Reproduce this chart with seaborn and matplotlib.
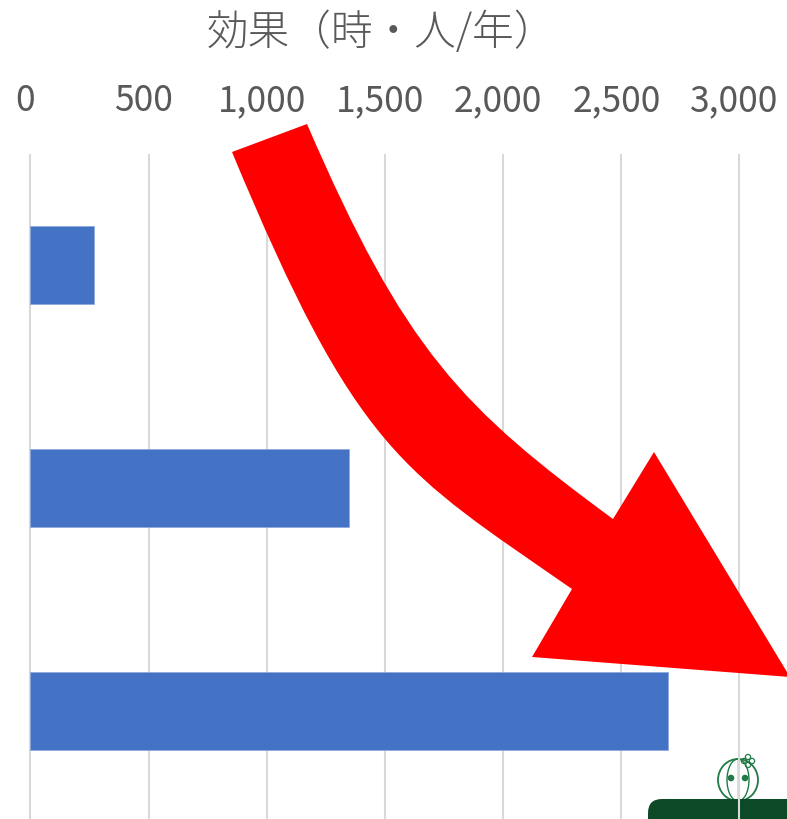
import numpy as np
import pandas as pd
import matplotlib
matplotlib.use("Agg")
import matplotlib.pyplot as plt
import seaborn as sns
from matplotlib.path import Path
from matplotlib.patches import PathPatch, FancyBboxPatch, Ellipse, Circle
from matplotlib.ticker import FuncFormatter
from matplotlib.transforms import ScaledTranslation

# ---- data ----
categories = ["項目1", "項目2", "項目3"]
values = [267, 1347, 2699]
tick_values = [0, 500, 1000, 1500, 2000, 2500, 3000]
title_text = "効果（時・人/年）"

sns.set_theme(style="white")
plt.rcParams['font.family'] = ['Noto Sans CJK JP', 'DejaVu Sans']

W, H = 787, 820
fig = plt.figure(figsize=(W / 100, H / 100), dpi=100)
fig.patch.set_facecolor("white")

# ---- background layer (logo) in pixel coordinates ----
bg = fig.add_axes([0, 0, 1, 1])
bg.set_xlim(0, W)
bg.set_ylim(H, 0)
bg.axis('off')
cg = '#1f7a45'
bg.add_patch(Ellipse((738, 781), 40, 42, fill=False, ec=cg, lw=1.3))
bg.add_patch(Ellipse((738, 781), 22, 42, fill=False, ec=cg, lw=1.0))
bg.plot([738, 738], [760, 802], color=cg, lw=1.0)
bg.add_patch(Circle((731, 779), 2.6, color=cg))
bg.add_patch(Circle((745, 779), 2.6, color=cg))
for dx, dy in [(0, -4), (4, 0), (0, 4), (-4, 0)]:
    bg.add_patch(Circle((748 + dx, 762 + dy), 2.6, fill=False, ec=cg, lw=0.9))
bg.add_patch(FancyBboxPatch((648, 800), 200, 100,
                            boxstyle="round,pad=0,rounding_size=14",
                            fc='#0c4a27', ec='none'))

# ---- main chart ----
ax = fig.add_axes([0, 0, 1, 1 - 155 / H])
ax.patch.set_alpha(0)
df = pd.DataFrame({"cat": categories, "val": values})
sns.barplot(data=df, x="val", y="cat", orient="h", color="#4472C4",
            width=0.35, saturation=1, ax=ax, edgecolor="#8fa9dc", linewidth=0.6)
ax.set_xlim(-129, 3201)
ax.set_ylim(2.485, -0.5)
ax.set_xticks(tick_values)
ax.xaxis.set_major_formatter(FuncFormatter(lambda v, p: f"{int(v):,}"))
ax.xaxis.tick_top()
ax.tick_params(axis='x', length=0, pad=26, labelsize=25.5, labelcolor="#595959")
ax.tick_params(axis='y', left=False, labelleft=False)
shift = ScaledTranslation(-5 / 100, 0, fig.dpi_scale_trans)
for lab in ax.get_xticklabels():
    lab.set_transform(lab.get_transform() + shift)
ax.set_xlabel("")
ax.set_ylabel("")
ax.grid(axis='x', color='#d9d9d9', lw=1.5)
ax.grid(axis='y', visible=False)
ax.set_axisbelow(True)
for s in ax.spines.values():
    s.set_visible(False)

fig.text(381 / W, 1 - 33 / H, title_text, ha='center', va='center',
         fontsize=30, color='#595959', fontweight='light')

# ---- foreground layer: red curved arrow ----
fg = fig.add_axes([0, 0, 1, 1])
fg.set_xlim(0, W)
fg.set_ylim(H, 0)
fg.axis('off')
fg.patch.set_alpha(0)
verts = [
    (232, 153),
    (357, 454), (402, 472), (572, 590),
    (532, 658),
    (790, 678),
    (654, 453),
    (613, 520),
    (462, 409), (405, 352), (307, 125),
    (232, 153),
]
codes = [Path.MOVETO,
         Path.CURVE4, Path.CURVE4, Path.CURVE4,
         Path.LINETO, Path.LINETO, Path.LINETO, Path.LINETO,
         Path.CURVE4, Path.CURVE4, Path.CURVE4,
         Path.CLOSEPOLY]
fg.add_patch(PathPatch(Path(verts, codes), fc='#ff0000', ec='none'))

fig.savefig("out.png", dpi=100)
